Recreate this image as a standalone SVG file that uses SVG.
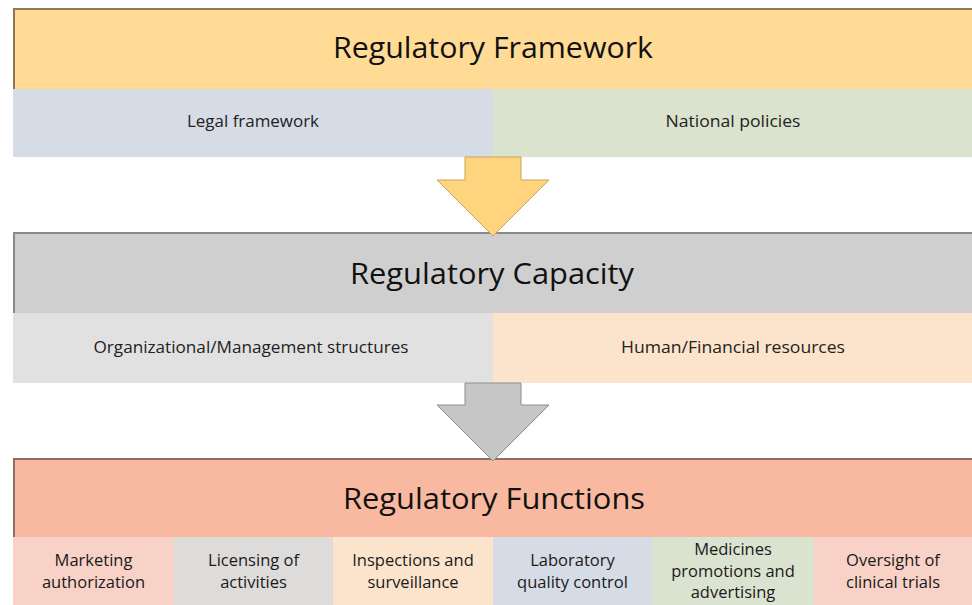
<svg xmlns="http://www.w3.org/2000/svg" width="972" height="605" viewBox="0 0 972 605">
  <style>
    .hdr { font-family: "Open Sans", "Liberation Sans", sans-serif; font-size: 30px; fill: #111; text-anchor: middle; }
    .sub { font-family: "Open Sans", "Liberation Sans", sans-serif; font-size: 16px; fill: #222; text-anchor: middle; }
    .fn  { font-family: "Open Sans", "Liberation Sans", sans-serif; font-size: 16.5px; fill: #1a1a1a; text-anchor: middle; }
    .edge { fill: none; stroke-width: 2; }
  </style>
  <rect x="0" y="0" width="972" height="605" fill="#ffffff"/>

  <!-- Tier 1 -->
  <g id="regulatory-framework">
    <rect x="13" y="8" width="959" height="81" fill="#FFDB95"/>
    <path class="edge" d="M14 89 V9 H972" stroke="#8C7A55"/>
    <text class="hdr" x="493" y="58" textLength="320" lengthAdjust="spacingAndGlyphs">Regulatory Framework</text>
  </g>
  <g id="legal-framework">
    <rect x="13" y="89" width="480" height="68" fill="#D6DCE5"/>
    <text class="sub" x="253" y="127" textLength="132" lengthAdjust="spacingAndGlyphs">Legal framework</text>
  </g>
  <g id="national-policies">
    <rect x="493" y="89" width="479" height="68" fill="#DAE3CD"/>
    <text class="sub" x="733" y="127" textLength="135" lengthAdjust="spacingAndGlyphs">National policies</text>
  </g>

  <!-- Tier 2 -->
  <g id="regulatory-capacity">
    <rect x="13" y="232" width="959" height="81" fill="#CFCFCF"/>
    <path class="edge" d="M14 313 V233 H972" stroke="#8A8A8A"/>
    <text class="hdr" x="492" y="284" textLength="284" lengthAdjust="spacingAndGlyphs">Regulatory Capacity</text>
  </g>
  <g id="organizational-structures">
    <rect x="13" y="313" width="480" height="70" fill="#E1E1E1"/>
    <text class="sub" x="251" y="353" textLength="315" lengthAdjust="spacingAndGlyphs">Organizational/Management structures</text>
  </g>
  <g id="human-financial-resources">
    <rect x="493" y="313" width="479" height="70" fill="#FBE4CB"/>
    <text class="sub" x="733" y="353" textLength="224" lengthAdjust="spacingAndGlyphs">Human/Financial resources</text>
  </g>

  <!-- Tier 3 -->
  <g id="regulatory-functions">
    <rect x="13" y="458" width="959" height="79" fill="#F8B9A0"/>
    <path class="edge" d="M14 537 V459 H972" stroke="#8C6E64"/>
    <text class="hdr" x="494" y="509" textLength="302" lengthAdjust="spacingAndGlyphs">Regulatory Functions</text>
  </g>
  <g id="marketing-authorization">
    <rect x="13" y="537" width="161" height="68" fill="#F8D2C6"/>
    <text class="fn" x="93.5" y="566">Marketing</text>
    <text class="fn" x="93.5" y="588">authorization</text>
  </g>
  <g id="licensing-of-activities">
    <rect x="174" y="537" width="159" height="68" fill="#DEDBDB"/>
    <text class="fn" x="253.5" y="566">Licensing of</text>
    <text class="fn" x="253.5" y="588">activities</text>
  </g>
  <g id="inspections-surveillance">
    <rect x="333" y="537" width="160" height="68" fill="#FCE4CC"/>
    <text class="fn" x="413" y="566">Inspections and</text>
    <text class="fn" x="413" y="588">surveillance</text>
  </g>
  <g id="laboratory-quality-control">
    <rect x="493" y="537" width="159" height="68" fill="#D6DCE5"/>
    <text class="fn" x="572.5" y="566">Laboratory</text>
    <text class="fn" x="572.5" y="588">quality control</text>
  </g>
  <g id="medicines-promotions">
    <rect x="652" y="537" width="162" height="68" fill="#DAE3CF"/>
    <text class="fn" x="733" y="555">Medicines</text>
    <text class="fn" x="733" y="577">promotions and</text>
    <text class="fn" x="733" y="598">advertising</text>
  </g>
  <g id="oversight-clinical-trials">
    <rect x="814" y="537" width="158" height="68" fill="#F8D2C6"/>
    <text class="fn" x="893" y="566">Oversight of</text>
    <text class="fn" x="893" y="588">clinical trials</text>
  </g>

  <!-- Block arrows linking the tiers -->
  <g id="connectors">
    <polygon points="465,157 521,157 521,180 549,180 493,236 437,180 465,180" fill="#FFD47E" stroke="#C9A459" stroke-width="1"/>
    <polygon points="465,383 521,383 521,405 549,405 493,461 437,405 465,405" fill="#C6C6C6" stroke="#8E8E8E" stroke-width="1"/>
  </g>
</svg>
